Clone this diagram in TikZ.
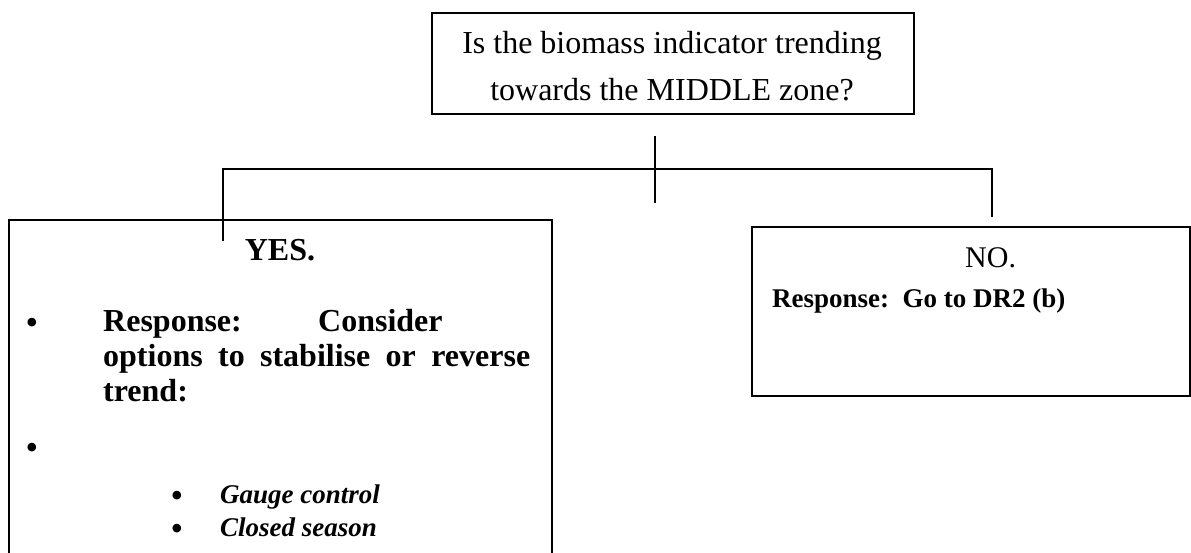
\documentclass[tikz,border=0pt]{standalone}
\usepackage{fontspec}
\setmainfont{Liberation Serif}
\begin{document}
\begin{tikzpicture}[x=1pt,y=-1pt,
  frame/.style={draw, line width=1.8pt, inner sep=0pt, anchor=north west},
  link/.style={line width=1.8pt},
  txt/.style={inner sep=0pt, anchor=base west},
  bul/.style={inner sep=0pt, anchor=base, font=\fontsize{36}{40}\selectfont},
  qfont/.style={font=\fontsize{32}{38}\selectfont},
  bigbold/.style={font=\bfseries\fontsize{32}{38}\selectfont},
  smallbold/.style={font=\bfseries\fontsize{27}{32}\selectfont},
  listfont/.style={font=\bfseries\itshape\fontsize{27}{32}\selectfont}]
\useasboundingbox (0,0) rectangle (1191,552);

% decision question
\node[frame, minimum width=482pt, minimum height=101pt] (question) at (431,12) {};
\node[txt, qfont, anchor=base] (qline1) at (672,53) {Is the biomass indicator trending};
\node[txt, qfont, anchor=base] (qline2) at (672,100) {towards the MIDDLE zone?};

% answer boxes (the YES box runs past the lower edge)
\node[frame, minimum width=543pt, minimum height=345pt] (yesbox) at (8,219) {};
\node[frame, minimum width=438pt, minimum height=169pt] (nobox) at (751,226) {};

% branching connector
\coordinate (stubtop) at (655,136);
\coordinate (stubbot) at (655,203);
\coordinate (branchl) at (223,169);
\coordinate (branchr) at (992,169);
\coordinate (yesend) at (223,241);
\coordinate (noend) at (992,217);
\draw[link] (stubtop) -- (stubbot);
\draw[link] (yesend) -- (branchl) -- (branchr) -- (noend);

% YES branch (bullets sit on a baseline about 12pt below their centre)
\node[txt, bigbold, anchor=base] (yestitle) at (280,260) {YES.};
\node[bul] (bulA) at (32,334) {•};
\node[txt, bigbold] (resp1) at (103,331) {\makebox[215pt][l]{Response:}Consider};
\node[txt, bigbold] (resp2) at (103,366) {\makebox[427pt][s]{options to stabilise or reverse}};
\node[txt, bigbold] (resp3) at (103,401) {trend:};
\node[bul] (bulB) at (32,459) {•};
\node[bul] (bulC) at (177,507) {•};
\node[txt, listfont] (gauge) at (220,503) {Gauge control};
\node[bul] (bulD) at (177,540) {•};
\node[txt, listfont] (closed) at (220,536) {Closed season};

% NO branch
\node[txt, font=\fontsize{30}{36}\selectfont] (notitle) at (965,267) {NO.};
\node[txt, smallbold] (noresp) at (772,307) {Response:\ \ Go to DR2 (b)};
\end{tikzpicture}
\end{document}
